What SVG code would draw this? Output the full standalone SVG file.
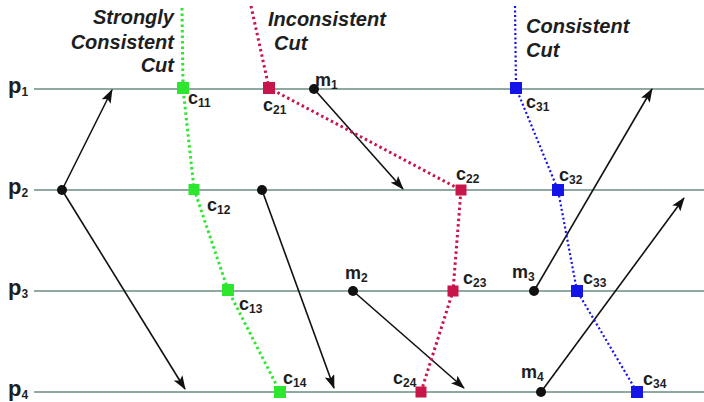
<svg xmlns="http://www.w3.org/2000/svg" width="704" height="402" viewBox="0 0 704 402">
<defs>
<style>
.proc{stroke:#8fa8a2;stroke-width:2;fill:none}
.msg{stroke:#111;stroke-width:1.6;fill:none;marker-end:url(#ah)}
.dot{fill:#111}
.g{stroke:#2fe62f;stroke-width:3;stroke-dasharray:2.5 3;fill:none}
.r{stroke:#c8154a;stroke-width:3;stroke-dasharray:2.5 3;fill:none}
.b{stroke:#1414e8;stroke-width:2.2;stroke-dasharray:2 2.5;fill:none}
.gs{fill:#2fe62f}
.rs{fill:#c8154a}
.bs{fill:#1414e8}
text{font-family:"Liberation Sans",Arial,sans-serif;font-weight:bold;fill:#1e1e1e}
.p{font-size:22px}
.c{font-size:18px}
.sub{font-size:12px}
.t{font-size:20px;font-style:italic}
</style>
<marker id="ah" viewBox="0 0 14 10" refX="13" refY="5" markerWidth="14" markerHeight="10" markerUnits="userSpaceOnUse" orient="auto">
<path d="M0,0 L14,5 L0,10 L3,5 Z" fill="#111"/>
</marker>
</defs>
<g id="processes">
<g id="p1"><line class="proc" x1="34" y1="89" x2="704" y2="89"/><text class="p" x="8" y="93">p<tspan class="sub" dy="3">1</tspan></text></g>
<g id="p2"><line class="proc" x1="34" y1="190" x2="704" y2="190"/><text class="p" x="8" y="194">p<tspan class="sub" dy="3">2</tspan></text></g>
<g id="p3"><line class="proc" x1="34" y1="291" x2="704" y2="291"/><text class="p" x="8" y="295">p<tspan class="sub" dy="3">3</tspan></text></g>
<g id="p4"><line class="proc" x1="34" y1="392" x2="704" y2="392"/><text class="p" x="8" y="396">p<tspan class="sub" dy="3">4</tspan></text></g>
</g>
<g id="connectors">
<line class="msg" x1="62" y1="190" x2="112" y2="90"/>
<line class="msg" x1="62" y1="190" x2="185" y2="389"/>
<line class="msg" x1="262" y1="190" x2="334" y2="388"/>
<line class="msg" x1="314" y1="89" x2="403" y2="189"/>
<line class="msg" x1="353" y1="291" x2="464" y2="388"/>
<line class="msg" x1="534" y1="291" x2="652" y2="89"/>
<line class="msg" x1="541" y1="392" x2="684" y2="198"/>
<polyline class="g" points="182,8 183,88 194,189 228,290 280,392"/>
<polyline class="r" points="251,6 269,88 461,190 453,291 421,392"/>
<polyline class="b" points="515,6 516,88 558,190 577,291 637,392"/>
</g>
<g id="events">
<circle class="dot" cx="62" cy="190" r="5"/>
<circle class="dot" cx="262" cy="190" r="5"/>
<g id="m1"><circle class="dot" cx="314" cy="89" r="5"/><text class="c" x="315" y="86">m<tspan class="sub" dy="3">1</tspan></text></g>
<g id="m2"><circle class="dot" cx="353" cy="291" r="5"/><text class="c" x="345" y="279">m<tspan class="sub" dy="3">2</tspan></text></g>
<g id="m3"><circle class="dot" cx="534" cy="291" r="5"/><text class="c" x="512" y="278">m<tspan class="sub" dy="3">3</tspan></text></g>
<g id="m4"><circle class="dot" cx="541" cy="392" r="5"/><text class="c" x="521" y="378">m<tspan class="sub" dy="3">4</tspan></text></g>
</g>
<g id="strong-cut">
<text class="t" text-anchor="end" x="174" y="24">Strongly</text>
<text class="t" text-anchor="end" x="174" y="49">Consistent</text>
<text class="t" text-anchor="end" x="174" y="72">Cut</text>
<g id="c11"><rect class="gs" x="177" y="82" width="12" height="12"/><text class="c" x="188" y="104">c<tspan class="sub" dy="3">11</tspan></text></g>
<g id="c12"><rect class="gs" x="188.5" y="184" width="11" height="11"/><text class="c" x="207" y="211">c<tspan class="sub" dy="3">12</tspan></text></g>
<g id="c13"><rect class="gs" x="222" y="284" width="12" height="12"/><text class="c" x="239" y="310">c<tspan class="sub" dy="3">13</tspan></text></g>
<g id="c14"><rect class="gs" x="274" y="386" width="12" height="12"/><text class="c" x="283" y="384">c<tspan class="sub" dy="3">14</tspan></text></g>
</g>
<g id="inconsistent-cut">
<text class="t" x="268" y="26">Inconsistent</text>
<text class="t" x="274" y="50">Cut</text>
<g id="c21"><rect class="rs" x="263" y="82" width="12" height="12"/><text class="c" x="263" y="111">c<tspan class="sub" dy="3">21</tspan></text></g>
<g id="c22"><rect class="rs" x="455.5" y="184.5" width="11" height="11"/><text class="c" x="456" y="180">c<tspan class="sub" dy="3">22</tspan></text></g>
<g id="c23"><rect class="rs" x="447.5" y="285.5" width="11" height="11"/><text class="c" x="463" y="284">c<tspan class="sub" dy="3">23</tspan></text></g>
<g id="c24"><rect class="rs" x="415.5" y="386.5" width="11" height="11"/><text class="c" x="393" y="384">c<tspan class="sub" dy="3">24</tspan></text></g>
</g>
<g id="consistent-cut">
<text class="t" x="526" y="33">Consistent</text>
<text class="t" x="526" y="57">Cut</text>
<g id="c31"><rect class="bs" x="510" y="82" width="12" height="12"/><text class="c" x="526" y="108">c<tspan class="sub" dy="3">31</tspan></text></g>
<g id="c32"><rect class="bs" x="552" y="184" width="12" height="12"/><text class="c" x="559" y="181">c<tspan class="sub" dy="3">32</tspan></text></g>
<g id="c33"><rect class="bs" x="571" y="285" width="12" height="12"/><text class="c" x="583" y="284">c<tspan class="sub" dy="3">33</tspan></text></g>
<g id="c34"><rect class="bs" x="631" y="386" width="12" height="12"/><text class="c" x="643" y="385">c<tspan class="sub" dy="3">34</tspan></text></g>
</g>
</svg>
